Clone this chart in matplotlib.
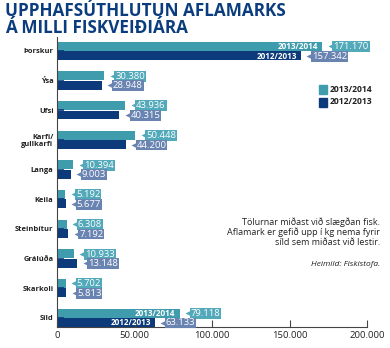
import matplotlib
matplotlib.use("Agg")
import matplotlib.pyplot as plt
from matplotlib.transforms import offset_copy

# ---------------------------------------------------------------------------
# Data (tonnes / kg)
# ---------------------------------------------------------------------------
species = ["Þorskur", "Ýsa", "Ufsi", "Karfi/\ngullkarfi", "Langa", "Keila",
           "Steinbítur", "Grálúða", "Skarkoli", "Síld"]
season_new = "2013/2014"
season_old = "2012/2013"
quota_new = [171170, 30380, 43936, 50448, 10394, 5192, 6308, 10933, 5702, 79118]
quota_old = [157342, 28948, 40315, 44200, 9003, 5677, 7192, 13148, 5813, 63133]
labelled_inside = ["Þorskur", "Síld"]
xticks = [0, 50000, 100000, 150000, 200000]
title = "UPPHAFSÚTHLUTUN AFLAMARKS\nÁ MILLI FISKVEIÐIÁRA"

LIGHT = "#3f9cad"
LIGHT_TAG = "#52a9b9"
DARK = "#0c3a7a"
DARK_TAG = "#6a84b2"
TITLE = "#0b3d7e"
FONT = ["Open Sans", "DejaVu Sans"]

plt.rcParams["font.family"] = FONT
PX = 0.72  # one pixel in points at dpi=100


def fmt(v):
    return f"{v:,}".replace(",", ".")


fig = plt.figure(figsize=(3.9, 3.48), dpi=100)
ax = fig.add_axes([57 / 390, 21 / 348, 310 / 390, 290 / 348])

ypos = list(range(len(species)))
h = 0.30
off = 0.16
ax.barh([y - off for y in ypos], quota_new, height=h, color=LIGHT)
ax.barh([y + off for y in ypos], quota_old, height=h, color=DARK)

# value tags: small arrow pointing at the bar + box with the number
tri = offset_copy(ax.transData, fig=fig, x=8.5, y=0, units="dots")
for vals, dy, tag in ((quota_new, -off, LIGHT_TAG), (quota_old, off, DARK_TAG)):
    for y, v in zip(ypos, vals):
        ax.plot(v, y + dy, marker="<", ms=4, color=tag, mec="none",
                transform=tri, clip_on=False)
        ax.annotate(fmt(v), (v, y + dy), xytext=(11 * PX, -0.3),
                    textcoords="offset points",
                    ha="left", va="center", fontsize=6.8, color="white",
                    bbox=dict(boxstyle="square,pad=0.1", fc=tag, ec="none"),
                    annotation_clip=False)

# season names written inside the two long bars
for name in labelled_inside:
    i = species.index(name)
    for vals, dy, lab in ((quota_new, -off, season_new), (quota_old, off, season_old)):
        ax.annotate(lab, (vals[i], i + dy), xytext=(-3, -0.3), textcoords="offset points",
                    ha="right", va="center", fontsize=5.9, color="white",
                    fontweight="bold")

ax.set_ylim(9.31, -0.47)
ax.set_xlim(0, 200000)
ax.set_yticks(ypos)
ax.set_yticklabels(species, fontsize=5.4, fontweight="bold", color="#222222",
                   linespacing=0.95)
ax.set_xticks(xticks)
ax.set_xticklabels([fmt(t) for t in xticks], fontsize=6.8, color="#222222")
ax.tick_params(axis="x", direction="in", length=5, width=0.8, color="#444444", pad=3)
ax.tick_params(axis="y", direction="in", length=5, width=1.2, color=DARK, pad=2.5)
for s in ("top", "right"):
    ax.spines[s].set_visible(False)
for s in ("left", "bottom"):
    ax.spines[s].set_color("#444444")
    ax.spines[s].set_linewidth(0.8)

# title (baseline of a multi-line text is its last line)
fig.text(5 / 390, 1 - 33 / 348, title, ha="left", va="baseline",
         fontsize=12.3, fontweight="bold", color=TITLE, linespacing=0.92)

# legend
for k, (lab, col) in enumerate(((season_new, LIGHT), (season_old, DARK))):
    yy = 1 - (89.5 + 12.5 * k) / 348
    fig.patches.append(plt.Rectangle((319 / 390, yy - 4.5 / 348), 8 / 390, 9 / 348,
                                     transform=fig.transFigure, color=col))
    fig.text(330 / 390, yy, lab, ha="left", va="center", fontsize=6.2,
             fontweight="bold", color="#222222")

# notes
fig.text(380 / 390, 1 - 217 / 348,
         "Tölurnar miðast við slægðan fisk.\nAflamark er gefið upp í kg nema fyrir\n"
         "síld sem miðast við lestir.",
         ha="right", va="top", fontsize=6.5, color="#222222", linespacing=1.15)
fig.text(380 / 390, 1 - 264 / 348, "Heimild: Fiskistofa.", ha="right", va="center",
         fontsize=6.0, style="italic", color="#222222")

fig.savefig("out.png", dpi=100)
